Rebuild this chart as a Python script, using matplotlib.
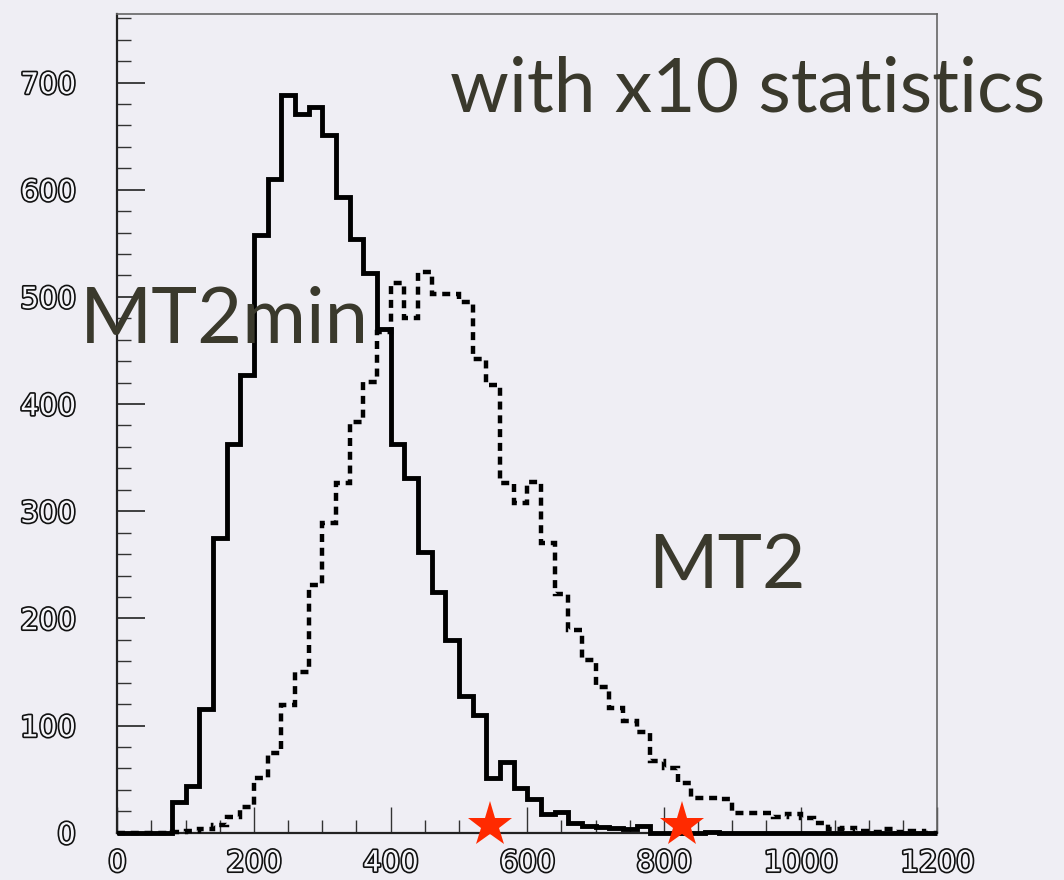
import numpy as np
import matplotlib.pyplot as plt
import matplotlib.patheffects as pe
from matplotlib.ticker import MultipleLocator

# histogram bin edges: 0..1200 in steps of 20
bin_edges = np.arange(0, 1201, 20)

# MT2min distribution (solid)
mt2min = [
    0, 0, 0, 0, 29, 44, 115, 275, 363, 427,
    558, 610, 688, 671, 677, 651, 593, 554, 522, 470,
    363, 331, 262, 225, 180, 128, 110, 51, 66, 42,
    31, 17, 19, 9, 6, 5, 4, 3, 6, 0,
    0, 0, 0, 1, 0, 0, 0, 0, 0, 0,
    0, 0, 0, 0, 0, 0, 0, 0, 0, 0,
]

# MT2 distribution (dashed)
mt2 = [
    0, 0, 0, 0, 1, 2, 3, 7, 15, 24,
    51, 74, 119, 150, 231, 289, 326, 383, 421, 467,
    513, 480, 523, 503, 503, 495, 442, 418, 326, 308,
    327, 270, 223, 189, 161, 136, 116, 104, 94, 67,
    60, 46, 32, 32, 31, 18, 18, 18, 15, 17,
    14, 9, 3, 4, 2, 1, 3, 1, 2, 0,
]

# endpoint markers on the x axis
star_x = [545, 827]
star_y = [7, 7]

x_ticks = [0, 200, 400, 600, 800, 1000, 1200]
y_ticks = [0, 100, 200, 300, 400, 500, 600, 700]

bg = '#efeef4'
ink = '#3a392c'

fig = plt.figure(figsize=(10.64, 8.8), dpi=100, facecolor=bg)
ax = fig.add_axes([117.3 / 1064, 47.3 / 880, 820 / 1064, 818.7 / 880])
ax.set_facecolor(bg)

ax.stairs(mt2, bin_edges, color='black', lw=3.2,
          linestyle=(0, (1.8, 1.3)), clip_on=False, zorder=3)
ax.stairs(mt2min, bin_edges, color='black', lw=3.5,
          clip_on=False, zorder=4)
ax.plot(star_x, star_y, ls='none', marker='*', ms=34, mew=0,
        color='#ff2a00', clip_on=False, zorder=6)

ax.set_xlim(0, 1200)
ax.set_ylim(0, 764)

ax.set_xticks(x_ticks)
ax.set_yticks(y_ticks)
ax.xaxis.set_minor_locator(MultipleLocator(50))
ax.yaxis.set_minor_locator(MultipleLocator(20))

ax.tick_params(axis='x', which='major', direction='in', length=19,
               width=1.0, color='#333333', pad=12, labelsize=21)
ax.tick_params(axis='x', which='minor', direction='in', length=9.5,
               width=1.0, color='#333333')
ax.tick_params(axis='y', which='major', direction='in', length=20,
               width=1.2, color='#222222', pad=30, labelsize=21)
ax.tick_params(axis='y', which='minor', direction='in', length=10,
               width=1.0, color='#333333')

outline = [pe.withStroke(linewidth=2.4, foreground='#111111')]
for lab in ax.get_xticklabels() + ax.get_yticklabels():
    lab.set_color('#f6f6fa')
    lab.set_path_effects(outline)

for side in ('top', 'right'):
    ax.spines[side].set_color('#666666')
    ax.spines[side].set_linewidth(1.2)
for side in ('left', 'bottom'):
    ax.spines[side].set_color('#222222')
    ax.spines[side].set_linewidth(1.6)

label_font = dict(family='Lato', color=ink, ha='left', va='baseline')
fig.text(450 / 1064, (880 - 111.7) / 880, 'with x10 statistics',
         fontsize=54, **label_font)
fig.text(80 / 1064, (880 - 343) / 880, 'MT2min',
         fontsize=56, zorder=5, **label_font)
fig.text(648 / 1064, (880 - 588) / 880, 'MT2',
         fontsize=54, **label_font)

fig.savefig('out.png', dpi=100, facecolor=bg)
